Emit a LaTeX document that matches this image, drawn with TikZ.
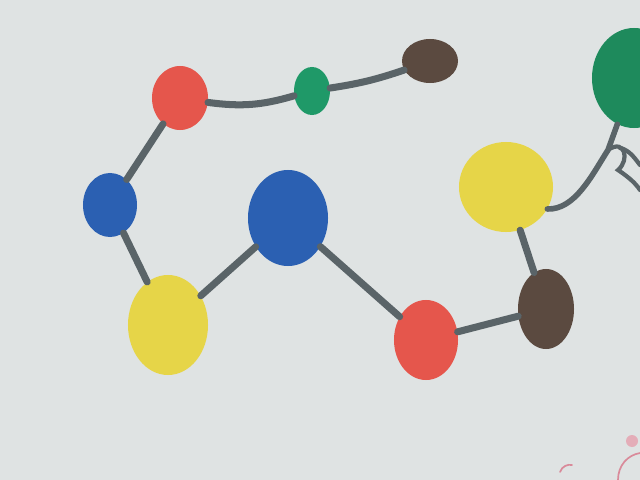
\documentclass[tikz,border=0pt]{standalone}
\usetikzlibrary{shapes.geometric}
\definecolor{paper}{HTML}{DFE3E3}
\definecolor{inkgray}{HTML}{5A6468}
\definecolor{dotred}{HTML}{E5564C}
\definecolor{dotgreen}{HTML}{1F9968}
\definecolor{dotbrown}{HTML}{5B4A40}
\definecolor{dotblue}{HTML}{2B60B2}
\definecolor{dotyellow}{HTML}{E6D548}
\definecolor{leafgreen}{HTML}{1E8A5C}
\definecolor{crayonpink}{HTML}{D98A9A}

\begin{document}
\begin{tikzpicture}[
  x=0.025cm,
  y=-0.025cm,
  dot/.style={ellipse, inner sep=0pt, draw=none},
  link/.style={inkgray, line width=5pt, line cap=round},
  crayon/.style={crayonpink, line width=1.2pt, line cap=round}
]
  % ---- the sheet -------------------------------------------------------
  \fill[paper] (0,0) rectangle (640,480);
  \useasboundingbox (0,0) rectangle (640,480);

  % ---- the dots --------------------------------------------------------
  \node[dot, fill=dotred, minimum width=1.4cm, minimum height=1.6cm] (redtop) at (180,98) {};
  \node[dot, fill=dotgreen, minimum width=0.9cm, minimum height=1.2cm] (greensmall) at (312,91) {};
  \node[dot, fill=dotbrown, minimum width=1.4cm, minimum height=1.1cm] (browntop) at (430,61) {};
  \node[dot, fill=dotblue, minimum width=1.35cm, minimum height=1.6cm] (blueleft) at (110,205) {};
  \node[dot, fill=dotblue, minimum width=2cm, minimum height=2.4cm] (bluebig) at (288,218) {};
  \node[dot, fill=dotyellow, minimum width=2cm, minimum height=2.5cm] (yellowleft) at (168,325) {};
  \node[dot, fill=dotred, minimum width=1.6cm, minimum height=2cm] (redlow) at (426,340) {};
  \node[dot, fill=dotbrown, minimum width=1.4cm, minimum height=2cm] (brownright) at (546,309) {};
  \node[dot, fill=dotyellow, minimum width=2.35cm, minimum height=2.25cm] (yellowright) at (506,187) {};
  \node[dot, fill=leafgreen, minimum width=2.1cm, minimum height=2.5cm] (leaf) at (634,78) {};

  % ---- the strings -----------------------------------------------------
  \draw[link] (redtop) -- (blueleft);
  \draw[link] (redtop) to[bend right=12] (greensmall);
  \draw[link] (greensmall) to[bend right=5] (browntop);
  \draw[link] (blueleft) -- (yellowleft);
  \draw[link] (yellowleft) -- (bluebig);
  \draw[link] (bluebig) -- (redlow);
  \draw[link] (redlow) -- (brownright);
  \draw[link] (brownright) -- (yellowright);

  % ---- the tail up to the leaf ----------------------------------------
  \coordinate (bend) at (608,150);
  \draw[link, line width=4pt] (yellowright.-28) .. controls (575,210) and (592,175) .. (bend) -- (leaf);
  \draw[link, line width=3pt] (bend) .. controls (625,138) and (630,160) .. (618,170)
    .. controls (630,178) and (636,184) .. (640,190);
  \draw[link, line width=3pt] (620,148) .. controls (630,150) and (636,160) .. (640,165);

  % ---- crayon marks in the corner -------------------------------------
  \draw[crayon] (560,472) .. controls (562,466) and (568,464) .. (572,465);
  \draw[crayon] (618,480) .. controls (618,465) and (628,455) .. (640,453);
  \fill[crayonpink!70] (632,441) circle (6);
\end{tikzpicture}
\end{document}
